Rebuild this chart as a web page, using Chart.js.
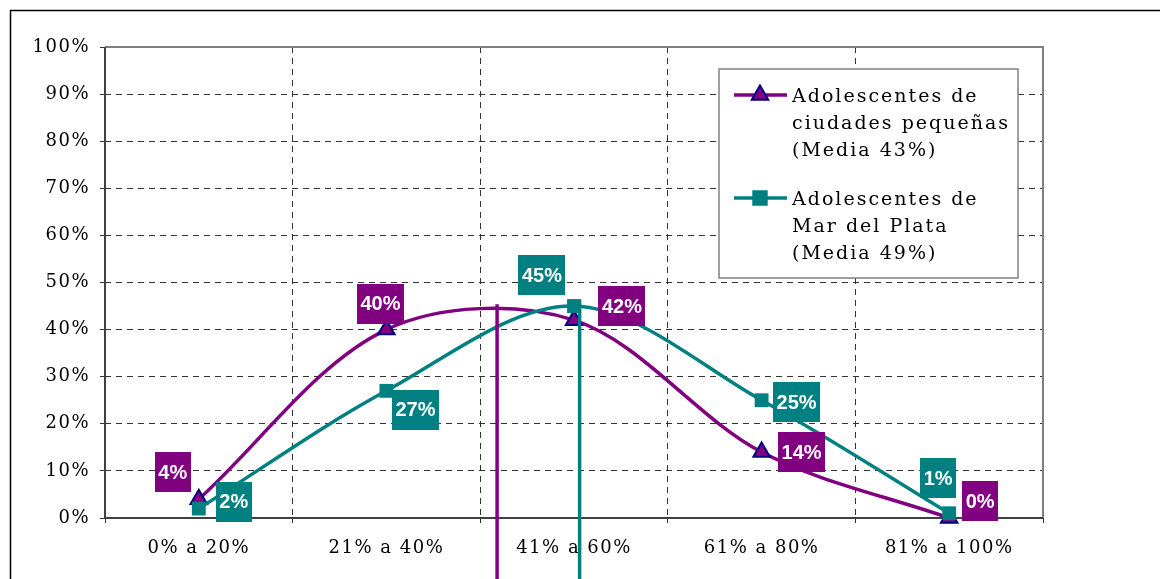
<!DOCTYPE html>
<html>
<head>
<meta charset="utf-8">
<script src="https://cdn.jsdelivr.net/npm/chart.js@4/dist/chart.umd.min.js"></script>
<style>html,body{margin:0;padding:0;background:#fff;}canvas{display:block;}</style>
</head>
<body>
<canvas id="c" width="1160" height="579"></canvas>
<script>
// ---- data ----
const categories = ['0% a 20%', '21% a 40%', '41% a 60%', '61% a 80%', '81% a 100%'];
const pequenas = [4, 40, 42, 14, 0];       // Adolescentes de ciudades pequeñas
const marDelPlata = [2, 27, 45, 25, 1];     // Adolescentes de Mar del Plata
const legendPequenas = ['Adolescentes de', 'ciudades pequeñas', '(Media 43%)'];
const legendMdp = ['Adolescentes de', 'Mar del Plata', '(Media 49%)'];
const meanPos = [1.59, 2.03];   // category-axis position of the mean lines
const meanTop = [45.4, 46.4];   // value where each mean line starts
const yMin = 0, yMax = 100, yStep = 10;

const PURPLE = '#800080', TEAL = '#008080', NAVY = '#000080';
const SERIF = '"DejaVu Serif", serif';
const SANS = '"Liberation Sans", Arial, sans-serif';

// label box offsets (px) relative to the point
const labelOffsets = [
  [[-26, -27], [-6, -26], [48, -14], [40, 0], [31, -17]],
  [[35, -7], [29, 19], [-32, -31], [35, 2], [-11, -35]]
];

const decor = {
  id: 'decor',
  beforeDraw(chart) {
    const c = chart.ctx;
    c.save();
    c.fillStyle = '#fff';
    c.fillRect(0, 0, chart.width, chart.height);
    c.strokeStyle = '#000';
    c.lineWidth = 1.5;
    c.beginPath();
    c.moveTo(10.5, chart.height);
    c.lineTo(10.5, 10.5);
    c.lineTo(chart.width, 10.5);
    c.stroke();
    c.restore();
    c.letterSpacing = '1.5px';
  },
  beforeDatasetsDraw(chart) {
    const c = chart.ctx, a = chart.chartArea;
    c.save();
    c.letterSpacing = '0px';
    c.lineWidth = 2;
    c.strokeStyle = '#808080';
    c.beginPath();
    c.moveTo(a.left, a.top); c.lineTo(a.right, a.top); c.lineTo(a.right, a.bottom);
    c.stroke();
    c.strokeStyle = '#404040';
    c.beginPath();
    c.moveTo(a.left, a.top); c.lineTo(a.left, a.bottom); c.lineTo(a.right, a.bottom);
    c.stroke();
    c.restore();
  },
  afterDatasetsDraw(chart) {
    const c = chart.ctx;
    const xs = chart.scales.x, ys = chart.scales.y;
    c.save();
    c.letterSpacing = '0px';
    // mean lines
    const cols = [PURPLE, TEAL];
    for (let i = 0; i < 2; i++) {
      const x = xs.getPixelForValue(meanPos[i]);
      const y = ys.getPixelForValue(meanTop[i]);
      c.strokeStyle = cols[i];
      c.lineWidth = 3.5;
      c.beginPath();
      c.moveTo(x, y); c.lineTo(x, chart.height);
      c.stroke();
    }
    // data labels
    c.font = 'bold 20px ' + SANS;
    c.textAlign = 'center';
    c.textBaseline = 'middle';
    chart.data.datasets.forEach((ds, di) => {
      const meta = chart.getDatasetMeta(di);
      meta.data.forEach((pt, i) => {
        const txt = ds.data[i] + '%';
        const off = labelOffsets[di][i];
        const cx = pt.x + off[0], cy = pt.y + off[1];
        const w = c.measureText(txt).width + 7;
        const h = 40;
        c.fillStyle = ds.borderColor;
        c.fillRect(Math.round(cx - w / 2), Math.round(cy - h / 2), Math.round(w), h);
        c.fillStyle = '#fff';
        c.fillText(txt, cx, cy + 1);
      });
    });
    c.restore();
  },
  afterDraw(chart) {
    const c = chart.ctx;
    c.save();
    c.letterSpacing = '0px';
    const L = 719, T = 69, R = 1018, B = 278;
    c.fillStyle = '#fff';
    c.fillRect(L, T, R - L, B - T);
    c.strokeStyle = '#808080';
    c.lineWidth = 1.5;
    c.strokeRect(L, T, R - L, B - T);
    const entries = [
      {lines: legendPequenas, color: PURPLE, style: 'triangle', border: NAVY, y: 95},
      {lines: legendMdp, color: TEAL, style: 'rect', border: TEAL, y: 198}
    ];
    entries.forEach(e => {
      c.strokeStyle = e.color;
      c.lineWidth = 3.5;
      c.beginPath();
      c.moveTo(734, e.y); c.lineTo(787, e.y);
      c.stroke();
      c.fillStyle = e.color;
      c.strokeStyle = e.border;
      c.lineWidth = 2;
      Chart.helpers.drawPoint(c, {pointStyle: e.style, radius: 9.5, borderWidth: 2, rotation: 0}, 760, e.y);
      c.font = '19px ' + SERIF;
      c.letterSpacing = '2px';
      c.fillStyle = '#000';
      c.textAlign = 'left';
      c.textBaseline = 'alphabetic';
      e.lines.forEach((ln, k) => c.fillText(ln, 792, e.y + 7 + k * 27));
      c.letterSpacing = '0px';
    });
    c.restore();
  }
};

const gridColorY = ctx => (ctx.tick && (ctx.tick.value === yMin || ctx.tick.value === yMax)) ? 'rgba(0,0,0,0)' : '#333';
const gridColorX = ctx => (ctx.index === 0 || ctx.index >= categories.length) ? 'rgba(0,0,0,0)' : '#333';

new Chart(document.getElementById('c'), {
  type: 'line',
  data: {
    labels: categories,
    datasets: [
      {
        label: legendPequenas.join(' '),
        data: pequenas,
        borderColor: PURPLE,
        backgroundColor: PURPLE,
        borderWidth: 3.5,
        pointStyle: 'triangle',
        pointRadius: 9.5,
        pointBorderColor: NAVY,
        pointBackgroundColor: PURPLE,
        pointBorderWidth: 2,
        tension: 0.33,
        fill: false,
        clip: false,
        order: 2
      },
      {
        label: legendMdp.join(' '),
        data: marDelPlata,
        borderColor: TEAL,
        backgroundColor: TEAL,
        borderWidth: 3.5,
        pointStyle: 'rect',
        pointRadius: 9.8,
        pointBorderColor: TEAL,
        pointBackgroundColor: TEAL,
        pointBorderWidth: 0,
        tension: 0.33,
        fill: false,
        clip: false,
        order: 1
      }
    ]
  },
  options: {
    responsive: false,
    devicePixelRatio: 1,
    animation: false,
    layout: {padding: {left: 10, top: 47, right: 117, bottom: 0}},
    plugins: {legend: {display: false}, tooltip: {enabled: false}},
    scales: {
      x: {
        type: 'category',
        offset: true,
        grid: {offset: true, color: gridColorX, tickColor: '#333', tickLength: 5, lineWidth: 1},
        border: {display: false, dash: [6, 5]},
        ticks: {font: {family: SERIF, size: 18}, color: '#000', padding: 15, maxRotation: 0, autoSkip: false},
        afterFit(s) { s.height = 61; }
      },
      y: {
        min: yMin, max: yMax,
        grid: {color: gridColorY, tickColor: '#333', tickLength: 5, lineWidth: 1},
        border: {display: false, dash: [6, 5]},
        ticks: {stepSize: yStep, font: {family: SERIF, size: 18}, color: '#000', padding: 10,
                callback: v => v + '%'},
        afterFit(s) { s.width = 95; }
      }
    }
  },
  plugins: [decor]
});
</script>
</body>
</html>
